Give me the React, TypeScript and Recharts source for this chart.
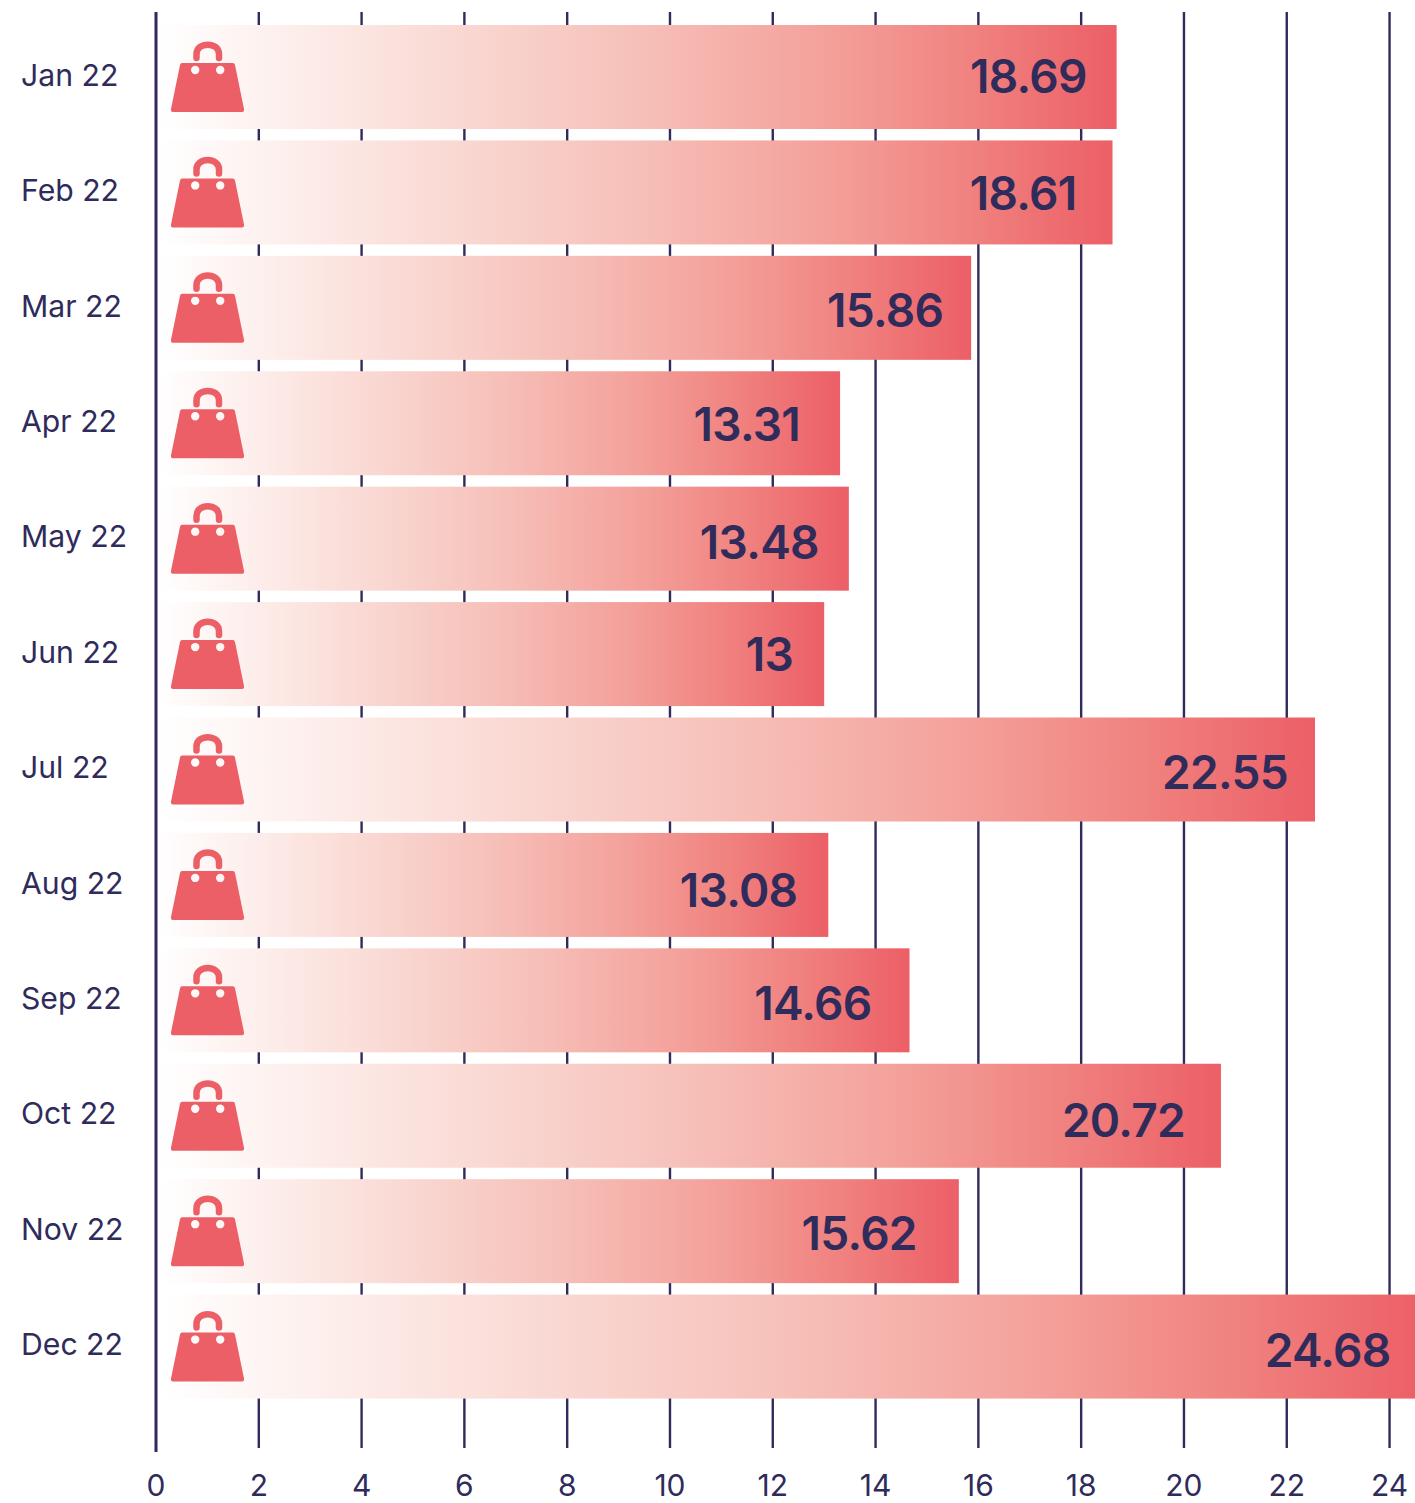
import React from "react";
import { BarChart, Bar, XAxis, YAxis, CartesianGrid, LabelList } from "recharts";

const months = ["Jan 22", "Feb 22", "Mar 22", "Apr 22", "May 22", "Jun 22", "Jul 22", "Aug 22", "Sep 22", "Oct 22", "Nov 22", "Dec 22"];
const spend = [18.69, 18.61, 15.86, 13.31, 13.48, 13, 22.55, 13.08, 14.66, 20.72, 15.62, 24.68];
const xTicks = [0, 2, 4, 6, 8, 10, 12, 14, 16, 18, 20, 22, 24];

const rows = months.map((month, i) => ({ month, spend: spend[i] }));

const INK = "#2F2B5B";
const CORAL = "#EC5F66";
const FONT = "Inter, 'Noto Sans', sans-serif";

// Handbag pictogram, drawn relative to the start of its bar and the bar's centre line.
function Bag({ x, cy }: { x: number; cy: number }) {
  const l = x + 15;
  return (
    <g transform={`translate(${l} ${cy})`}>
      <path
        d="M25.5 -19 V-23 C25.5 -35.5 48 -35.5 48 -23 V-19"
        fill="none"
        stroke={CORAL}
        strokeWidth={6.5}
        strokeLinecap="round"
      />
      <path
        fillRule="evenodd"
        fill={CORAL}
        d="M11 -14 H62 Q63.5 -14 64 -12 L73 32 Q73.5 35 71 35 H2 Q-0.5 35 0 32 L9 -12 Q9.5 -14 11 -14 Z
           M20 -7 a4.2 4.2 0 1 0 8.4 0 a4.2 4.2 0 1 0 -8.4 0 Z
           M45 -7 a4.2 4.2 0 1 0 8.4 0 a4.2 4.2 0 1 0 -8.4 0 Z"
      />
    </g>
  );
}

function BagBar(props: any) {
  const { x, y, width, height } = props;
  return (
    <g>
      <rect x={x + 3} y={y} width={width - 3} height={height} fill="url(#barFade)" />
      <Bag x={x} cy={y + height / 2} />
    </g>
  );
}

// Hand-set spacing of each value label from the end of its bar, and its shift off the bar's centre line.
const labelInset = [30, 36, 28, 40, 30, 31, 27, 31, 38, 36, 42, 34];
const labelShift = [-1, 1, 2, 1, 3, 0, 2, 5, 3, 4, 2, 3];

function ValueLabel(props: any) {
  const { x, y, width, height, value, index } = props;
  return (
    <text
      x={x + width - labelInset[index]}
      y={y + height / 2 + labelShift[index]}
      textAnchor="end"
      dominantBaseline="central"
      fontFamily={FONT}
      fontSize={46}
      fontWeight={600}
      letterSpacing={-0.7}
      fill={INK}
    >
      {value}
    </text>
  );
}

function MonthTick(props: any) {
  const { y, payload } = props;
  return (
    <text x={21} y={y - 2} dominantBaseline="central" fontFamily={FONT} fontSize={30.2} fill={INK}>
      {payload.value}
    </text>
  );
}

function ValueTick(props: any) {
  const { x, payload } = props;
  return (
    <text x={x} y={1485} textAnchor="middle" dominantBaseline="central" fontFamily={FONT} fontSize={30} fill={INK}>
      {payload.value}
    </text>
  );
}

// The baseline at zero is heavier and runs a little past the other rules.
function GridRule(props: any) {
  const { x1, x2, y1, y2, index } = props;
  const isBase = index === 0;
  return (
    <line
      x1={x1}
      x2={x2}
      y1={y1}
      y2={isBase ? y2 + 4 : y2}
      stroke={INK}
      strokeWidth={isBase ? 3 : 2.4}
    />
  );
}

export default function App() {
  return (
    <div style={{ position: "absolute", left: 0, top: 0, width: 1415, height: 1503, overflow: "hidden", background: "#fff" }}>
      <BarChart
        width={1425}
        height={1503}
        data={rows}
        layout="vertical"
        barSize={104}
        margin={{ top: 12, right: 0.5, bottom: 0, left: 0 }}
      >
        <defs>
          <linearGradient id="barFade" x1="0" y1="0" x2="1" y2="0">
            <stop offset="0" stopColor="#FFFFFF" />
            <stop offset="0.25" stopColor="#FBE0DB" />
            <stop offset="0.5" stopColor="#F6C0B9" />
            <stop offset="0.7" stopColor="#F4A09A" />
            <stop offset="0.85" stopColor="#F0827F" />
            <stop offset="1" stopColor={CORAL} />
          </linearGradient>
        </defs>
        <CartesianGrid horizontal={false} vertical={GridRule} stroke={INK} />
        <XAxis
          type="number"
          domain={[0, 24.68]}
          ticks={xTicks}
          interval={0}
          height={55}
          axisLine={false}
          tickLine={false}
          tick={ValueTick}
        />
        <YAxis
          type="category"
          dataKey="month"
          width={156}
          axisLine={false}
          tickLine={false}
          interval={0}
          padding={{ top: 7, bottom: 44 }}
          tick={MonthTick}
        />
        <Bar dataKey="spend" isAnimationActive={false} shape={BagBar}>
          <LabelList dataKey="spend" content={ValueLabel} />
        </Bar>
      </BarChart>
    </div>
  );
}
